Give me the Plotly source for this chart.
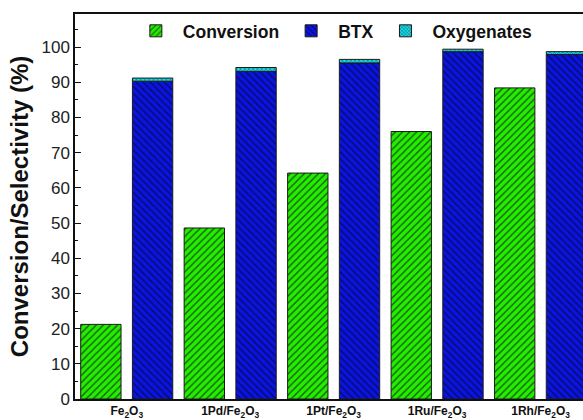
import plotly.graph_objects as go

# Catalysts and measured performance (%)
catalysts = ["Fe<sub>2</sub>O<sub>3</sub>", "1Pd/Fe<sub>2</sub>O<sub>3</sub>", "1Pt/Fe<sub>2</sub>O<sub>3</sub>",
             "1Ru/Fe<sub>2</sub>O<sub>3</sub>", "1Rh/Fe<sub>2</sub>O<sub>3</sub>"]
conversion = [21.2, 48.6, 64.2, 76.0, 88.4]
btx = [90.3, 93.1, 95.5, 98.7, 97.9]
oxygenates = [0.9, 1.1, 1.0, 0.7, 0.8]

FONT = "Liberation Sans, Arial, sans-serif"
edge = dict(color="#1a1a1a", width=1)

fig = go.Figure()
fig.add_trace(go.Bar(
    name="Conversion", x=catalysts, y=conversion, offsetgroup="conv",
    marker=dict(color="#22ee00", line=edge,
                pattern=dict(shape="/", fgcolor="#1d5a10", bgcolor="#22ee00",
                             size=5, solidity=0.28, fillmode="replace")),
))
fig.add_trace(go.Bar(
    name="BTX", x=catalysts, y=btx, offsetgroup="sel",
    marker=dict(color="#0a14e0", line=edge,
                pattern=dict(shape="\\", fgcolor="#0a0a60", bgcolor="#0a14e0",
                             size=5, solidity=0.28, fillmode="replace")),
))
fig.add_trace(go.Bar(
    name="Oxygenates", x=catalysts, y=oxygenates, base=btx, offsetgroup="sel",
    marker=dict(color="#19d9e6", line=edge,
                pattern=dict(shape="x", fgcolor="#0a5a60", bgcolor="#19d9e6",
                             size=3, solidity=0.3, fillmode="replace")),
))

fig.update_layout(
    width=583, height=420,
    margin=dict(l=75, r=0, t=14, b=21, autoexpand=False),
    paper_bgcolor="white", plot_bgcolor="white",
    barmode="group", bargap=0.0, bargroupgap=0.22,
    font=dict(family=FONT, color="#111"),
    legend=dict(orientation="h", x=0.106, xanchor="left", xref="paper",
                y=0.956, yanchor="middle",
                font=dict(family=FONT, size=17.5, weight="bold", color="#111"),
                bgcolor="rgba(0,0,0,0)", itemwidth=44, tracegroupgap=0),
)
fig.update_xaxes(
    range=[-0.5, 4.41], showline=True, linecolor="#111", linewidth=2, mirror=True,
    ticks="", showgrid=False, tickfont=dict(family=FONT, size=12, weight="bold", color="#111"),
    ticklabelstandoff=0,
)
fig.update_yaxes(
    range=[0, 109.4], dtick=10, tick0=0, showline=True, linecolor="#111", linewidth=1.5,
    mirror=False, ticks="inside", ticklen=6, tickwidth=1.2, tickcolor="#111",
    minor=dict(dtick=5, ticks="inside", ticklen=3, tickcolor="#111", tickwidth=1.2),
    showgrid=False, zeroline=False,
    tickfont=dict(family=FONT, size=17, color="#222"),
    title=dict(text="Conversion/Selectivity (%)", standoff=6,
               font=dict(family=FONT, size=24, weight="bold", color="#111")),
)

fig.write_html("out.html")
